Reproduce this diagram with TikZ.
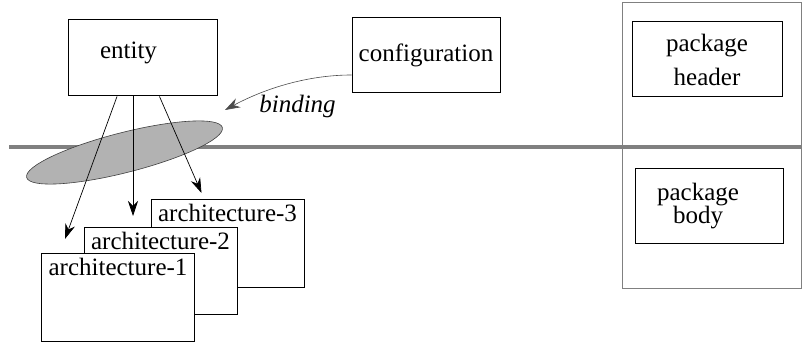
\documentclass[tikz,border=0pt]{standalone}
\usepackage{fontspec}
\newfontfamily\timesfont{Liberation Serif}
\usetikzlibrary{arrows.meta,shapes.geometric,positioning}

\begin{document}
\begin{tikzpicture}[x=1pt, y=-1pt, on grid, line width=1pt, font={\timesfont\fontsize{25}{30}\selectfont}]
  \tikzstyle{unit} = [draw, fill=white, rectangle, minimum width=149pt, minimum height=76pt, inner sep=0pt]
  \tikzstyle{arch} = [draw, fill=white, rectangle, minimum width=153pt, text height=19pt, text depth=62pt, inner xsep=0pt, inner ysep=3pt]
  \tikzstyle{archEdge} = [-{Stealth[length=15pt,width=10pt]}, line width=0.7pt];
  \tikzstyle{bindEdge} = [-{Stealth[length=15pt,width=10pt]}, line width=0.6pt, black!70];
  \tikzstyle{divider} = [line width=4pt, gray];

  \useasboundingbox (0,0) rectangle (802,344);

  % package frame and the divider
  \node[draw=gray, rectangle, minimum width=179pt, minimum height=285pt, inner sep=0pt] (pkg) at (711.5,145.5) {};
  \coordinate (divL) at (9,147.5);
  \coordinate (divR) at (802,147.5);
  \draw[divider] (divL) -- (divR);

  \node[unit, text width=85pt, align=left, inner xsep=32pt, text height=17pt, text depth=15pt] (entity) at (142.5,58) {entity};
  \node[unit, minimum width=148pt, minimum height=75pt] (config) [right=283.5pt of entity, yshift=2.5pt] {configuration};
  \node[unit, minimum width=150pt, minimum height=75pt, align=center] (pkghead) [right=281pt of config, yshift=-4pt] {package\\[4pt]header};
  \node[unit, minimum width=148pt, minimum height=75pt, label={[align=center, xshift=-11pt]center:package\\[-7pt]body}] (pkgbody) [below right=146.5pt and 2pt of pkghead] {};

  \node[ellipse, draw=black!75, fill=gray!60, line width=0.6pt, minimum width=202pt, minimum height=40pt, inner sep=0pt, rotate=14.3] (ring) at (124.5,152.5) {};

  \node[arch] (arch3) at (227.5,243.5) {architecture-3};
  \node[arch] (arch2) [below left=27.5pt and 67pt of arch3] {architecture-2};
  \node[arch] (arch1) [below left=26.5pt and 42.5pt of arch2] {architecture-1};

  \coordinate (tipA) at (65,239);
  \coordinate (tipB) at (133,216);
  \coordinate (tipC) at (201.5,193);
  \draw[archEdge] ([xshift=-25.5pt]entity.south) -- (tipA);
  \draw[archEdge] ([xshift=-9.5pt]entity.south) -- (tipB);
  \draw[archEdge] ([xshift=17pt]entity.south) -- (tipC);

  \coordinate (bindtip) at (225,110);
  \draw[bindEdge] ([yshift=-19.5pt]config.west) .. controls (305,75) and (262,90) .. (bindtip);
  \node[font={\timesfont\fontsize{25}{30}\selectfont\itshape}, anchor=base] (bindlabel) at (297.5,113) {binding};
\end{tikzpicture}
\end{document}
